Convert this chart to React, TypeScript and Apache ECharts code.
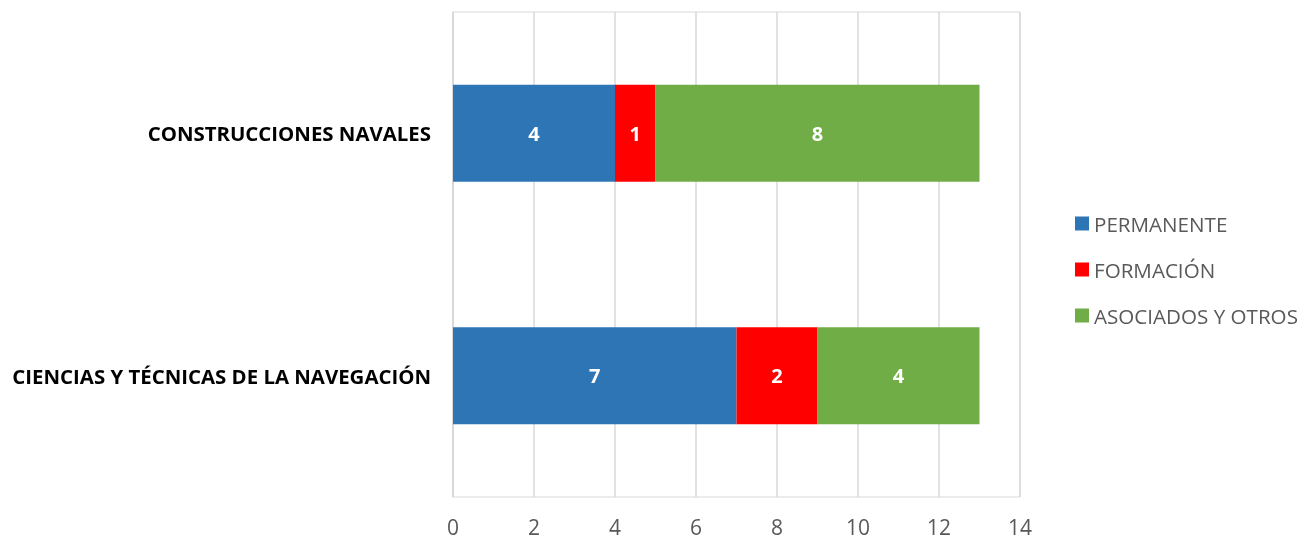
import React, { useEffect, useRef } from "react";
import * as echarts from "echarts";

const categories = ["CIENCIAS Y TÉCNICAS DE LA NAVEGACIÓN", "CONSTRUCCIONES NAVALES"];
const seriesNames = ["PERMANENTE", "FORMACIÓN", "ASOCIADOS Y OTROS"];
const permanente = [7, 4];
const formacion = [2, 1];
const asociados = [4, 8];
const colors = ["#2E75B6", "#FF0000", "#70AD47"];

const FONT = "'Open Sans', 'Noto Sans', sans-serif";

export default function App() {
  const ref = useRef<HTMLDivElement>(null);
  useEffect(() => {
    if (!ref.current) return;
    const chart = echarts.init(ref.current, null, { renderer: "svg" });
    const values = [permanente, formacion, asociados];
    chart.setOption({
      animation: false,
      textStyle: { fontFamily: FONT },
      grid: { left: 453, right: 283, top: 12, bottom: 42, show: true, borderColor: "#d9d9d9", borderWidth: 1 },
      legend: {
        orient: "vertical",
        left: 1070,
        top: 208,
        itemWidth: 14,
        itemHeight: 14,
        itemGap: 25,
        icon: "rect",
        textStyle: { fontSize: 20.6, color: "#595959", fontFamily: FONT },
        data: seriesNames,
      },
      xAxis: {
        type: "value",
        min: 0,
        max: 14,
        interval: 2,
        axisLine: { show: false },
        axisTick: { show: false },
        splitLine: { lineStyle: { color: "#d9d9d9", width: 1.5 } },
        axisLabel: { fontSize: 21, lineHeight: 21, color: "#595959", margin: 19 },
      },
      yAxis: {
        type: "category",
        data: categories,
        axisLine: { show: true, lineStyle: { color: "#d9d9d9", width: 1.5 } },
        axisTick: { show: false },
        axisLabel: { fontSize: 20.4, fontWeight: "bold", color: "#000", margin: 22 },
      },
      series: seriesNames.map((name, i) => ({
        name,
        type: "bar",
        stack: "total",
        barWidth: "40%",
        data: values[i],
        itemStyle: { color: colors[i] },
        label: {
          show: true,
          position: "inside",
          color: "#fff",
          fontWeight: "bold",
          fontSize: 20,
          fontFamily: FONT,
        },
      })),
    });
    return () => chart.dispose();
  }, []);
  return <div ref={ref} style={{ position: "fixed", left: 0, top: 0, width: 1303, height: 539 }} />;
}
